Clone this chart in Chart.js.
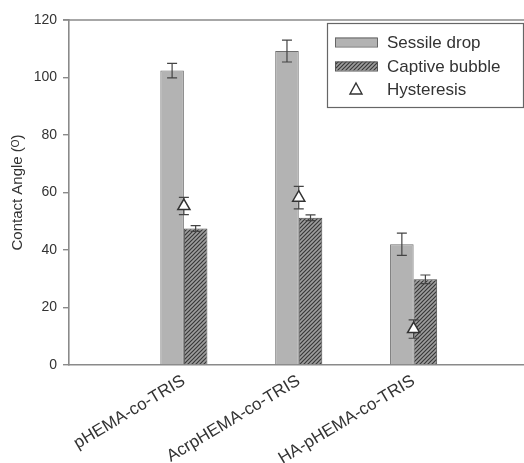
<!DOCTYPE html>
<html>
<head>
<meta charset="utf-8">
<script src="https://cdn.jsdelivr.net/npm/chart.js@4.4.1/dist/chart.umd.min.js"></script>
<style>
html,body{margin:0;padding:0;background:#fff;overflow:hidden;}
#wrap{width:537px;height:463px;}
</style>
</head>
<body>
<div id="wrap"><canvas id="c" width="537" height="463"></canvas></div>
<script>
// ---- data ----
const categories = ['', 'pHEMA-co-TRIS', 'AcrpHEMA-co-TRIS', 'HA-pHEMA-co-TRIS', ''];
const sessileDrop = [null, 102.4, 109.2, 42.0, null];
const sessileErr = [null, 2.5, 3.8, 3.9, null];
const captiveBubble = [null, 47.5, 51.2, 29.8, null];
const captiveErr = [null, 1.0, 1.0, 1.5, null];
const hysteresis = [null, 55.3, 58.2, 12.5, null];
const hysteresisErr = [null, 3.0, 3.9, 3.2, null];
const yTicks = [0, 20, 40, 60, 80, 100, 120];
const seriesNames = ['Sessile drop', 'Captive bubble', 'Hysteresis'];
const errors = [sessileErr, captiveErr, hysteresisErr];

const FONT = "'Liberation Sans', Arial, sans-serif";
const TXT = '#333';
const AXIS = '#8a8a8a';

function makeHatch() {
  const s = 4;
  const p = document.createElement('canvas');
  p.width = s; p.height = s;
  const g = p.getContext('2d');
  g.fillStyle = '#9e9e9e';
  g.fillRect(0, 0, s, s);
  g.strokeStyle = '#383838';
  g.lineWidth = 1.2;
  g.beginPath();
  g.moveTo(0, s); g.lineTo(s, 0);
  g.moveTo(-1, 1); g.lineTo(1, -1);
  g.moveTo(s - 1, s + 1); g.lineTo(s + 1, s - 1);
  g.stroke();
  return g.createPattern(p, 'repeat');
}
const ctx0 = document.getElementById('c').getContext('2d');
const hatch = makeHatch();

function drawErr(chart, dsIndex) {
  const meta = chart.getDatasetMeta(dsIndex);
  const y = chart.scales.y;
  const vals = chart.data.datasets[dsIndex].data;
  const errs = errors[dsIndex];
  const ctx = chart.ctx;
  ctx.save();
  ctx.strokeStyle = '#444';
  ctx.lineWidth = 1.2;
  meta.data.forEach((el, i) => {
    if (vals[i] == null) return;
    const x = el.x;
    const yt = y.getPixelForValue(vals[i] + errs[i]);
    const yb = y.getPixelForValue(vals[i] - errs[i]);
    ctx.beginPath();
    ctx.moveTo(x, yt); ctx.lineTo(x, yb);
    ctx.moveTo(x - 5, yt); ctx.lineTo(x + 5, yt);
    ctx.moveTo(x - 5, yb); ctx.lineTo(x + 5, yb);
    ctx.stroke();
  });
  ctx.restore();
}

const plugin = {
  id: 'custom',
  afterDatasetDraw(chart, args) {
    if (args.index === 0 || args.index === 1) drawErr(chart, args.index);
  },
  beforeDatasetDraw(chart, args) {
    if (args.index === 2) drawErr(chart, 2);
  },
  afterDraw(chart) {
    const ctx = chart.ctx;
    const a = chart.chartArea;
    ctx.save();
    ctx.strokeStyle = AXIS;
    ctx.lineWidth = 1.6;
    ctx.beginPath();
    ctx.moveTo(a.left - 6, a.top);
    ctx.lineTo(a.right, a.top);
    ctx.stroke();
    const bx = 327, by = 23, bw = 196, bh = 84;
    ctx.fillStyle = '#fff';
    ctx.fillRect(bx, by, bw, bh);
    ctx.strokeStyle = '#666';
    ctx.lineWidth = 1.2;
    ctx.strokeRect(bx + 0.5, by + 0.5, bw, bh);
    const rows = [42, 66, 89];
    ctx.font = '17px ' + FONT;
    ctx.textBaseline = 'middle';
    ctx.textAlign = 'left';
    ctx.fillStyle = '#b3b3b3';
    ctx.fillRect(335, rows[0] - 4.5, 42, 9);
    ctx.strokeStyle = '#666';
    ctx.lineWidth = 1;
    ctx.strokeRect(335.5, rows[0] - 4, 42, 9);
    ctx.fillStyle = hatch;
    ctx.fillRect(335, rows[1] - 4.5, 42, 9);
    ctx.strokeStyle = '#555';
    ctx.strokeRect(335.5, rows[1] - 4, 42, 9);
    const tx = 356, ty = rows[2];
    ctx.beginPath();
    ctx.moveTo(tx, ty - 6);
    ctx.lineTo(tx + 6, ty + 5);
    ctx.lineTo(tx - 6, ty + 5);
    ctx.closePath();
    ctx.fillStyle = '#fff';
    ctx.fill();
    ctx.strokeStyle = '#333';
    ctx.lineWidth = 1.4;
    ctx.stroke();
    ctx.fillStyle = TXT;
    seriesNames.forEach((n, i) => ctx.fillText(n, 387, rows[i] + 1));
    ctx.restore();
  }
};

new Chart(ctx0, {
  type: 'bar',
  data: {
    labels: categories,
    datasets: [
      {
        label: seriesNames[0], data: sessileDrop,
        backgroundColor: '#b3b3b3', borderColor: '#6e6e6e', borderWidth: 1,
        categoryPercentage: 0.41, barPercentage: 1.0, order: 2
      },
      {
        label: seriesNames[1], data: captiveBubble,
        backgroundColor: hatch, borderColor: '#4a4a4a', borderWidth: 1,
        categoryPercentage: 0.41, barPercentage: 1.0, order: 2
      },
      {
        type: 'line', label: seriesNames[2], data: hysteresis,
        showLine: false, pointStyle: 'triangle', pointRadius: 7,
        pointBackgroundColor: '#fff', pointBorderColor: '#333', pointBorderWidth: 1.5,
        order: 1
      }
    ]
  },
  options: {
    responsive: false,
    animation: false,
    devicePixelRatio: 1,
    layout: { padding: { top: 20, right: 0, left: 0, bottom: 0 } },
    plugins: { legend: { display: false }, tooltip: { enabled: false } },
    scales: {
      x: {
        offset: false,
        grid: { display: true, drawOnChartArea: false, drawTicks: false, color: 'rgba(0,0,0,0)' },
        border: { display: true, color: AXIS, width: 1.6 },
        ticks: {
          color: TXT, font: { family: FONT, size: 17 },
          minRotation: 31, maxRotation: 31, padding: 6, autoSkip: false
        },
        afterFit(s) { s.height = 98; s.paddingRight = 0; s.paddingLeft = 0; }
      },
      y: {
        min: 0, max: 120,
        afterBuildTicks(s) { s.ticks = yTicks.map(v => ({ value: v })); },
        grid: { display: true, drawOnChartArea: false, drawTicks: true, tickLength: 6, color: AXIS, lineWidth: 1.4 },
        border: { display: true, color: AXIS, width: 1.6 },
        ticks: { color: TXT, font: { family: FONT, size: 14 }, padding: 6 },
        title: { display: true, text: 'Contact Angle (ᴼ)', color: TXT, font: { family: FONT, size: 15 }, padding: { top: 9, bottom: 0 } },
        afterFit(s) { s.width = 69; }
      }
    }
  },
  plugins: [plugin]
});
</script>
</body>
</html>
